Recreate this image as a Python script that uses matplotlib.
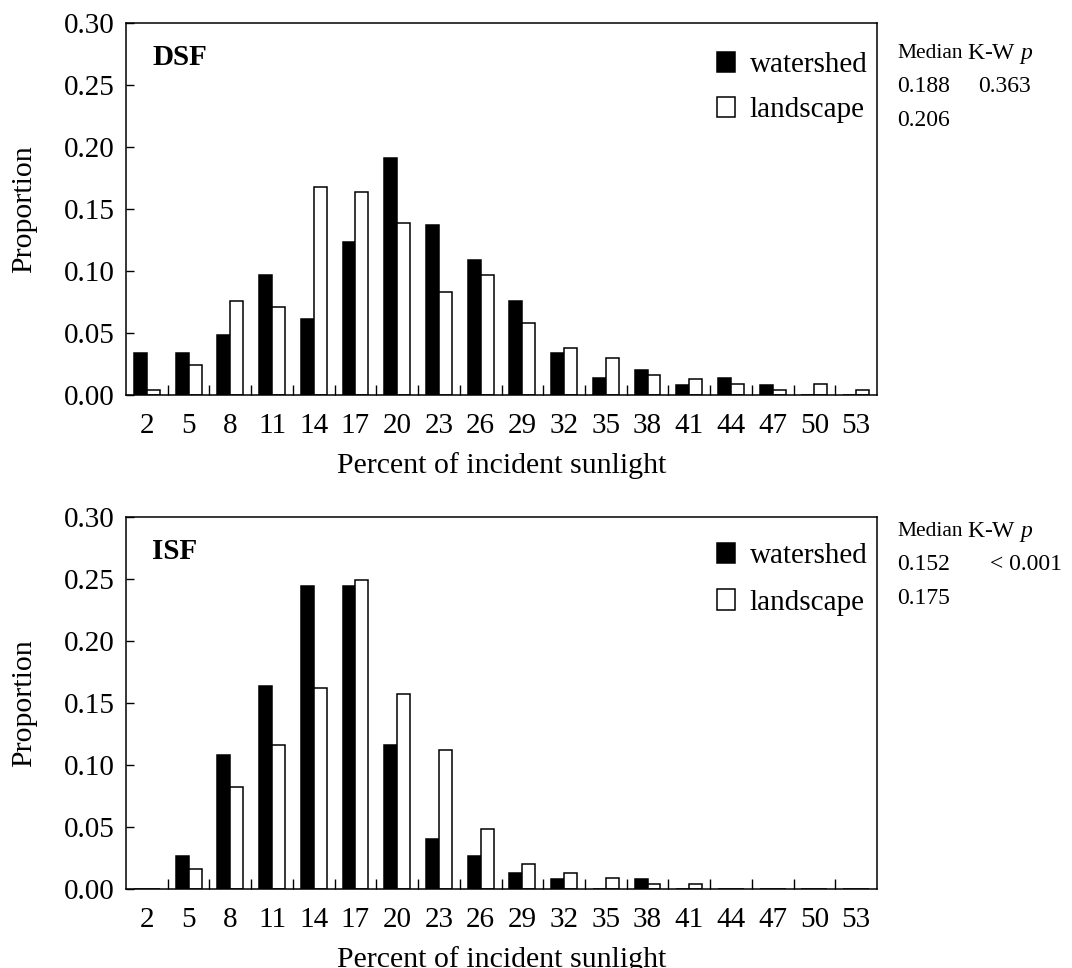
import numpy as np
import matplotlib
matplotlib.use("Agg")
import matplotlib.pyplot as plt

plt.rcParams['font.family'] = ['Liberation Serif', 'DejaVu Serif']
plt.rcParams['mathtext.fontset'] = 'custom'
plt.rcParams['mathtext.rm'] = 'Liberation Serif'
plt.rcParams['mathtext.it'] = 'Liberation Serif:italic'

# categories (percent of incident sunlight)
categories = [2, 5, 8, 11, 14, 17, 20, 23, 26, 29, 32, 35, 38, 41, 44, 47, 50, 53]

# DSF proportions
dsf_watershed = [0.034, 0.034, 0.048, 0.097, 0.061, 0.123, 0.191, 0.137, 0.109, 0.076,
                 0.034, 0.014, 0.020, 0.008, 0.014, 0.008, 0.000, 0.000]
dsf_landscape = [0.004, 0.024, 0.076, 0.071, 0.168, 0.164, 0.139, 0.083, 0.097, 0.058,
                 0.038, 0.030, 0.016, 0.013, 0.009, 0.004, 0.009, 0.004]

# ISF proportions
isf_watershed = [0.000, 0.027, 0.108, 0.164, 0.244, 0.244, 0.116, 0.040, 0.027, 0.013,
                 0.008, 0.000, 0.008, 0.000, 0.000, 0.000, 0.000, 0.000]
isf_landscape = [0.000, 0.016, 0.082, 0.116, 0.162, 0.249, 0.157, 0.112, 0.048, 0.020,
                 0.013, 0.009, 0.004, 0.004, 0.000, 0.000, 0.000, 0.000]

# text beside each panel
dsf_stats = [["Median", "K-W $p$"], ["0.188", "0.363"], ["0.206", ""]]
isf_stats = [["Median", "K-W $p$"], ["0.152", "< 0.001"], ["0.175", ""]]

W, H = 1072, 968
BAR_W = 0.31
TICK_FS = 21
LAB_FS = 21.5
LEG_FS = 21
ANN_FS = 17


def px_box(left, top, right, bottom):
    # pixel box -> figure fraction rect
    return [left / W, 1 - bottom / H, (right - left) / W, (bottom - top) / H]


def panel(ax, name, watershed, landscape, stats, top_px, leg_top, leg_sp):
    x = np.arange(len(categories))
    ax.bar(x - BAR_W / 2, watershed, BAR_W, color='black', edgecolor='black',
           linewidth=1.1, label='watershed')
    ax.bar(x + BAR_W / 2, landscape, BAR_W, color='white', edgecolor='black',
           linewidth=1.1, label='landscape')
    ax.set_xlim(-0.5, len(categories) - 0.5)
    ax.set_ylim(0, 0.30)
    ax.set_yticks(np.arange(0, 0.301, 0.05))
    ax.set_yticklabels(["%.2f" % v for v in np.arange(0, 0.301, 0.05)])
    ax.set_xticks(x)
    ax.set_xticklabels([str(c) for c in categories])
    ax.set_xticks(x[:-1] + 0.5, minor=True)
    ax.tick_params(axis='x', which='major', length=0, pad=13, labelsize=TICK_FS)
    ax.tick_params(axis='x', which='minor', direction='in', length=7, width=1)
    ax.tick_params(axis='y', direction='in', length=5.5, width=1, pad=8, labelsize=TICK_FS)
    for s in ax.spines.values():
        s.set_linewidth(1.1)
    ax.set_xlabel("Percent of incident sunlight", fontsize=LAB_FS)
    ax.xaxis.set_label_coords(0.5, -0.153)
    ax.set_ylabel("Proportion", fontsize=LAB_FS)
    ax.yaxis.set_label_coords(-0.118, 0.5)
    ax.text(0.035, 0.908, name, transform=ax.transAxes, fontsize=21,
            fontweight='bold', va='center', ha='left')
    ax.legend(loc='upper right', bbox_to_anchor=(0.987, leg_top), frameon=False,
              fontsize=LEG_FS, handlelength=0.62, handleheight=0.72,
              handletextpad=0.48, labelspacing=leg_sp, borderpad=0, borderaxespad=0)
    # stats text outside, right of the axes
    for i, row in enumerate(stats):
        y = top_px + 31 + 33 * i
        fs0 = 15.5 if row[0] == "Median" else ANN_FS
        fig.text(897 / W, 1 - y / H, row[0], fontsize=fs0, va='center', ha='left')
        if row[1]:
            x1 = 967 if i == 0 else (978 if row[1][0] != '<' else 990)
            fig.text(x1 / W, 1 - y / H, row[1], fontsize=ANN_FS, va='center', ha='left')


fig = plt.figure(figsize=(W / 100, H / 100), dpi=100, facecolor='w')
ax1 = fig.add_axes(px_box(126, 23, 877, 395))
ax2 = fig.add_axes(px_box(126, 517, 877, 889))

panel(ax1, "DSF", dsf_watershed, dsf_landscape, dsf_stats, 23, 0.923, 0.63)
panel(ax2, "ISF", isf_watershed, isf_landscape, isf_stats, 501, 0.931, 0.68)

fig.savefig("out.png", dpi=100)
plt.close()
